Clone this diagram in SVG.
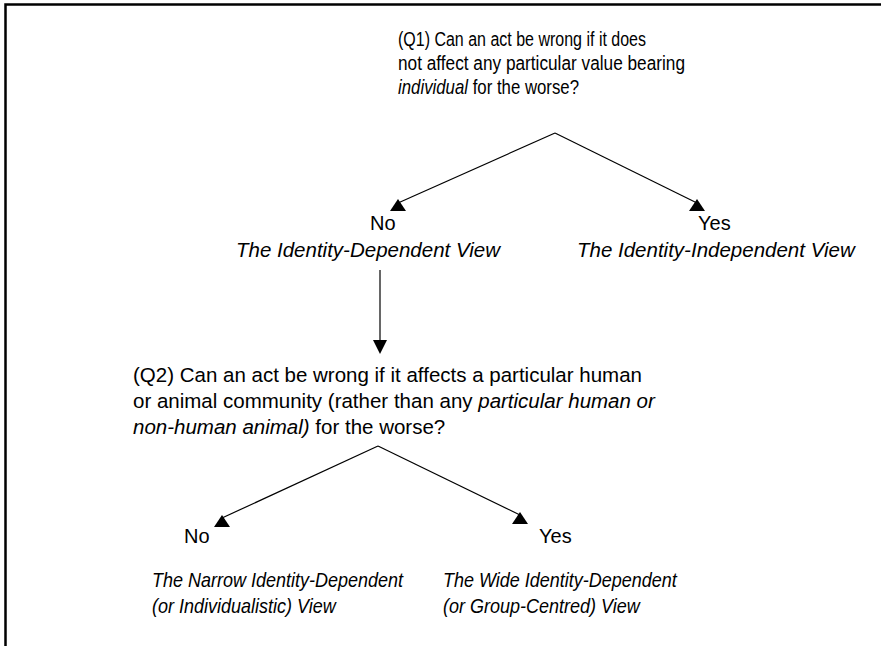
<svg xmlns="http://www.w3.org/2000/svg" width="881" height="646" viewBox="0 0 881 646">
<style>
text{font-family:"Liberation Sans",Arial,sans-serif;font-size:20px;fill:#000}
.w{font-size:20.5px}
.i{font-style:italic}
.ln{stroke:#000;stroke-width:1.2;fill:none}
.ah{fill:#000;stroke:none}
</style>
<rect width="881" height="646" fill="#fff"/>
<path d="M5.5,646 V4.5 H881" fill="none" stroke="#000" stroke-width="2.5"/>
<g id="connectors">
<line class="ln" x1="555" y1="133" x2="398" y2="203"/>
<polygon class="ah" points="398,199 390,211 406,211"/>
<line class="ln" x1="555" y1="133" x2="697" y2="203"/>
<polygon class="ah" points="697,199 689,211 705,211"/>
<line class="ln" x1="380" y1="270" x2="380" y2="342"/>
<polygon class="ah" points="373,340 387,340 380,354"/>
<line class="ln" x1="378" y1="446" x2="222" y2="518"/>
<polygon class="ah" points="222,515 214,527 230,527"/>
<line class="ln" x1="378" y1="446" x2="520" y2="515"/>
<polygon class="ah" points="520,512 512,524 528,524"/>
</g>
<g id="q1">
<text x="398" y="46" textLength="248" lengthAdjust="spacingAndGlyphs">(Q1) Can an act be wrong if it does</text>
<text x="398" y="70" textLength="287" lengthAdjust="spacingAndGlyphs">not affect any particular value bearing</text>
<text transform="translate(398 94) scale(0.84 1)"><tspan class="i">individual</tspan> for the worse?</text>
</g>
<g id="no1">
<text x="370" y="230">No</text>
<text x="236" y="257" class="i w">The Identity-Dependent View</text>
</g>
<g id="yes1">
<text x="698" y="230">Yes</text>
<text x="577" y="257" class="i w">The Identity-Independent View</text>
</g>
<g id="q2">
<text x="133" y="382" class="w">(Q2) Can an act be wrong if it affects a particular human</text>
<text x="133" y="408" class="w">or animal community (rather than any <tspan class="i">particular human or</tspan></text>
<text x="133" y="434" class="w"><tspan class="i">non-human animal)</tspan> for the worse?</text>
</g>
<g id="no2">
<text x="184" y="543">No</text>
<text class="i" transform="translate(152 587) scale(0.9 1)">The Narrow Identity-Dependent</text>
<text class="i" transform="translate(152 613) scale(0.9 1)">(or Individualistic) View</text>
</g>
<g id="yes2">
<text x="539" y="543">Yes</text>
<text class="i" transform="translate(443 587) scale(0.9 1)">The Wide Identity-Dependent</text>
<text class="i" transform="translate(443 613) scale(0.9 1)">(or Group-Centred) View</text>
</g>
</svg>
